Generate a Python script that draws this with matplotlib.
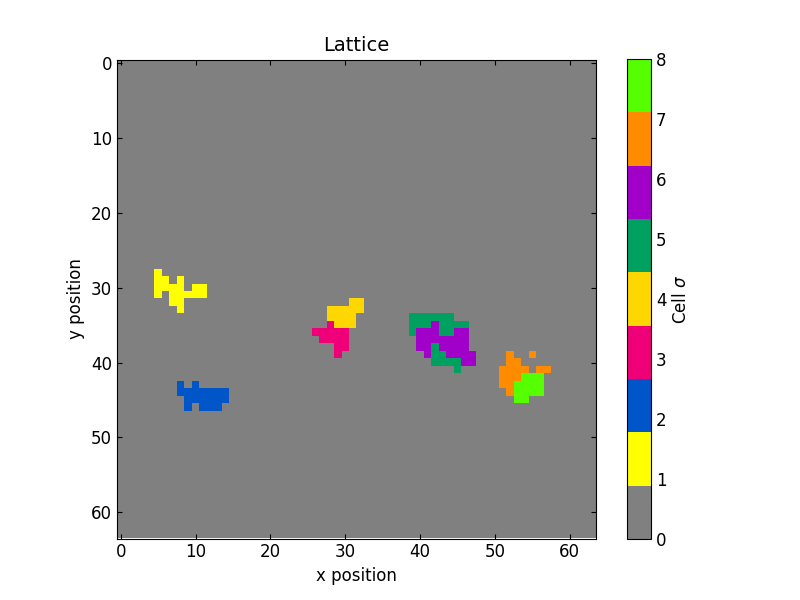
import numpy as np
import matplotlib
matplotlib.use('Agg')
from matplotlib import pyplot as plt
from matplotlib.colors import ListedColormap

N = 64
# cell id -> list of (row, first col, last col)
cells = {
    1: [(28, 5, 5), (29, 5, 6), (29, 8, 8), (30, 5, 8), (30, 10, 11), (31, 5, 5), (31, 7, 11),
        (32, 7, 8), (33, 8, 8)],
    2: [(43, 8, 8), (43, 10, 10), (44, 8, 14), (45, 9, 14), (46, 9, 9), (46, 11, 13)],
    3: [(35, 28, 28), (36, 26, 30), (37, 27, 30), (38, 29, 30), (39, 29, 29)],
    4: [(32, 31, 32), (33, 28, 32), (34, 28, 31), (35, 29, 31)],
    5: [(34, 39, 44), (35, 39, 41), (35, 43, 46), (36, 39, 39), (36, 43, 44), (38, 42, 42),
        (39, 42, 43), (40, 42, 45), (41, 45, 45)],
    6: [(35, 42, 42), (36, 40, 42), (36, 45, 46), (37, 40, 46), (38, 40, 41), (38, 43, 46),
        (39, 41, 41), (39, 44, 47), (40, 46, 47)],
    7: [(39, 52, 52), (39, 55, 55), (40, 52, 53), (41, 51, 54), (41, 56, 57), (42, 51, 53),
        (43, 51, 52), (44, 52, 52)],
    8: [(42, 54, 56), (43, 53, 56), (44, 53, 56), (45, 53, 54)],
}
colors = ['#808080', '#ffff00', '#0055c8', '#f00078', '#ffd700',
          '#00a060', '#a000c8', '#ff8c00', '#55ff00']

lattice = np.zeros((N, N))
for sigma, runs in cells.items():
    for r, c0, c1 in runs:
        lattice[r, c0:c1 + 1] = sigma

fig = plt.figure(figsize=(8, 6), dpi=100)
ax = fig.add_axes([117/800, 61/600, 479/800, 480/600])
cax = fig.add_axes([627/800, 61/600, 24/800, 480/600])
im = ax.imshow(lattice, cmap=ListedColormap(colors), vmin=0, vmax=8, interpolation='nearest')
ax.set_title('Lattice', fontsize=14)
ax.set_xlabel('x position', fontsize=12)
ax.set_ylabel('y position', fontsize=12)
ax.set_xticks(range(0, 61, 10))
ax.set_yticks(range(0, 61, 10))
ax.tick_params(direction='in', labelsize=12, top=True, right=True)
cb = fig.colorbar(im, cax=cax, ticks=range(9))
cb.set_label(r'Cell $\sigma$', fontsize=12)
cb.ax.tick_params(direction='in', labelsize=12, length=0)
fig.savefig('out.png')
